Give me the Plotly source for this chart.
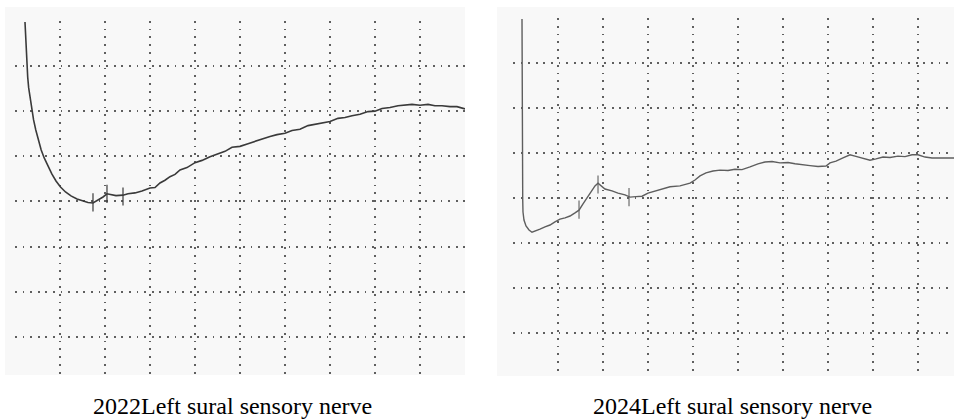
import plotly.graph_objects as go

W, H = 954, 420

# ---- data (in grid divisions) ----
left_x = [0.222, 0.240, 0.264, 0.282, 0.304, 0.333, 0.371, 0.413, 0.462, 0.522, 0.582, 0.649, 0.729, 0.818,
          0.911, 1.011, 1.122, 1.244, 1.378, 1.511, 1.622, 1.733, 1.844, 1.956, 2.044, 2.133, 2.244, 2.40,
          2.511, 2.667, 2.822, 3.0, 3.111, 3.222, 3.333, 3.444, 3.556, 3.667, 3.822, 4.0, 4.156, 4.333,
          4.511, 4.667, 4.822, 5.0, 5.178, 5.333, 5.489, 5.667, 5.822, 6.0, 6.156, 6.333, 6.511, 6.667,
          6.822, 7.0, 7.178, 7.333, 7.489, 7.667, 7.844, 8.0, 8.156, 8.333, 8.511, 8.667, 8.822, 9.0,
          9.178, 9.333, 9.489, 9.667, 9.822, 10.0]
left_y = [7.975, 7.488, 7.001, 6.757, 6.514, 6.293, 6.049, 5.805, 5.584, 5.340, 5.141, 4.964, 4.787, 4.610,
          4.455, 4.322, 4.211, 4.123, 4.056, 4.012, 3.979, 3.968, 4.03, 4.10, 4.17, 4.15, 4.13, 4.14,
          4.17, 4.19, 4.23, 4.30, 4.31, 4.41, 4.47, 4.55, 4.60, 4.70, 4.75, 4.86, 4.91, 4.99,
          5.06, 5.11, 5.20, 5.22, 5.28, 5.33, 5.39, 5.44, 5.48, 5.51, 5.57, 5.60, 5.68, 5.71,
          5.75, 5.77, 5.84, 5.86, 5.90, 5.93, 5.99, 6.00, 6.06, 6.08, 6.12, 6.13, 6.15, 6.13,
          6.15, 6.12, 6.12, 6.10, 6.10, 6.05]
left_tick_x = [1.733, 2.044, 2.40]
left_tick_y = [3.98, 4.17, 4.11]

right_x = [0.20, 0.20, 0.20, 0.207, 0.216, 0.222, 0.244, 0.289, 0.356, 0.422, 0.511, 0.60, 0.711, 0.822,
           0.933, 1.044, 1.156, 1.267, 1.378, 1.467, 1.556, 1.644, 1.733, 1.822, 1.889, 1.956, 2.044,
           2.2, 2.333, 2.489, 2.6, 2.733, 2.867, 3.0, 3.156, 3.311, 3.489, 3.711, 3.933, 4.044, 4.156,
           4.289, 4.444, 4.6, 4.778, 4.933, 5.089, 5.267, 5.444, 5.6, 5.756, 5.933, 6.111, 6.267,
           6.444, 6.6, 6.778, 6.956, 7.044, 7.178, 7.333, 7.489, 7.6, 7.756, 7.933, 8.067, 8.222,
           8.378, 8.556, 8.711, 8.867, 9.0, 9.156, 9.311, 9.489, 9.644, 9.8]
right_y = [7.98, 7.07, 5.73, 4.40, 3.96, 3.69, 3.51, 3.38, 3.29, 3.24, 3.27, 3.31, 3.36, 3.40,
           3.47, 3.53, 3.56, 3.60, 3.67, 3.73, 3.87, 4.00, 4.16, 4.27, 4.33, 4.27, 4.20,
           4.16, 4.11, 4.07, 4.02, 4.03, 4.04, 4.11, 4.15, 4.20, 4.25, 4.27, 4.33, 4.40, 4.49,
           4.56, 4.60, 4.62, 4.61, 4.64, 4.63, 4.69, 4.76, 4.80, 4.81, 4.78, 4.79, 4.76,
           4.73, 4.72, 4.70, 4.71, 4.78, 4.82, 4.89, 4.96, 4.93, 4.89, 4.84, 4.87, 4.91,
           4.90, 4.93, 4.92, 4.96, 4.96, 4.91, 4.89, 4.89, 4.88, 4.89]
right_tick_x = [1.467, 1.889, 2.578]
right_tick_y = [3.74, 4.30, 4.02]

captions = ["2022Left sural sensory nerve", "2024Left sural sensory nerve"]

# ---- layout helpers ----
def px_x(p):
    return p / W

def px_y(p):
    return 1 - p / H

fig = go.Figure()

fig.add_trace(go.Scatter(x=left_x, y=left_y, mode="lines", xaxis="x", yaxis="y",
                         line=dict(color="#3a3a3a", width=1.6),
                         showlegend=False, hoverinfo="skip"))
fig.add_trace(go.Scatter(x=left_tick_x, y=left_tick_y, mode="markers", xaxis="x", yaxis="y",
                         marker=dict(symbol="line-ns", size=13, line=dict(color="#3a3a3a", width=1.2)),
                         showlegend=False, hoverinfo="skip"))
fig.add_trace(go.Scatter(x=right_x, y=right_y, mode="lines", xaxis="x2", yaxis="y2",
                         line=dict(color="#5e5e5e", width=1.4), showlegend=False, hoverinfo="skip"))
fig.add_trace(go.Scatter(x=right_tick_x, y=right_tick_y, mode="markers", xaxis="x2", yaxis="y2",
                         marker=dict(symbol="line-ns", size=13, line=dict(color="#5e5e5e", width=1.1)),
                         showlegend=False, hoverinfo="skip"))

gx = dict(showticklabels=False, zeroline=False, showline=False, ticks="",
          showgrid=True, gridcolor="#5f5f5f", gridwidth=1.8, griddash="1.8px,6px",
          tickvals=list(range(1, 10)), fixedrange=True)
gy = dict(showticklabels=False, zeroline=False, showline=False, ticks="",
          showgrid=True, gridcolor="#5f5f5f", gridwidth=1.8, griddash="1.8px,5.8px",
          tickvals=list(range(1, 8)), fixedrange=True)

fig.update_layout(
    width=W, height=H, margin=dict(l=0, r=0, t=0, b=0),
    paper_bgcolor="white", plot_bgcolor="rgba(0,0,0,0)",
    xaxis=dict(gx, domain=[px_x(15), px_x(465)], range=[0, 10]),
    yaxis=dict(gy, domain=[px_y(375), px_y(20.8)], range=[0.159, 8]),
    xaxis2=dict(gx, domain=[px_x(513), 1.0], range=[0, 9.8], anchor="y2"),
    yaxis2=dict(gy, domain=[px_y(375), px_y(18)], range=[0.067, 8], anchor="x2"),
    shapes=[
        dict(type="rect", xref="paper", yref="paper", x0=px_x(5), x1=px_x(465), y0=px_y(375), y1=px_y(7),
             fillcolor="#f8f8f8", line=dict(width=0), layer="below"),
        dict(type="rect", xref="paper", yref="paper", x0=px_x(497), x1=1.0, y0=px_y(376), y1=px_y(7),
             fillcolor="#f8f8f8", line=dict(width=0), layer="below"),
    ],
    annotations=[
        dict(text=captions[0], xref="paper", yref="paper", x=px_x(232), y=px_y(406), showarrow=False,
             xanchor="center", yanchor="middle", font=dict(family="Liberation Serif", size=24, color="black")),
        dict(text=captions[1], xref="paper", yref="paper", x=px_x(732), y=px_y(406), showarrow=False,
             xanchor="center", yanchor="middle", font=dict(family="Liberation Serif", size=24, color="black")),
    ],
)

fig.write_html("out.html")
